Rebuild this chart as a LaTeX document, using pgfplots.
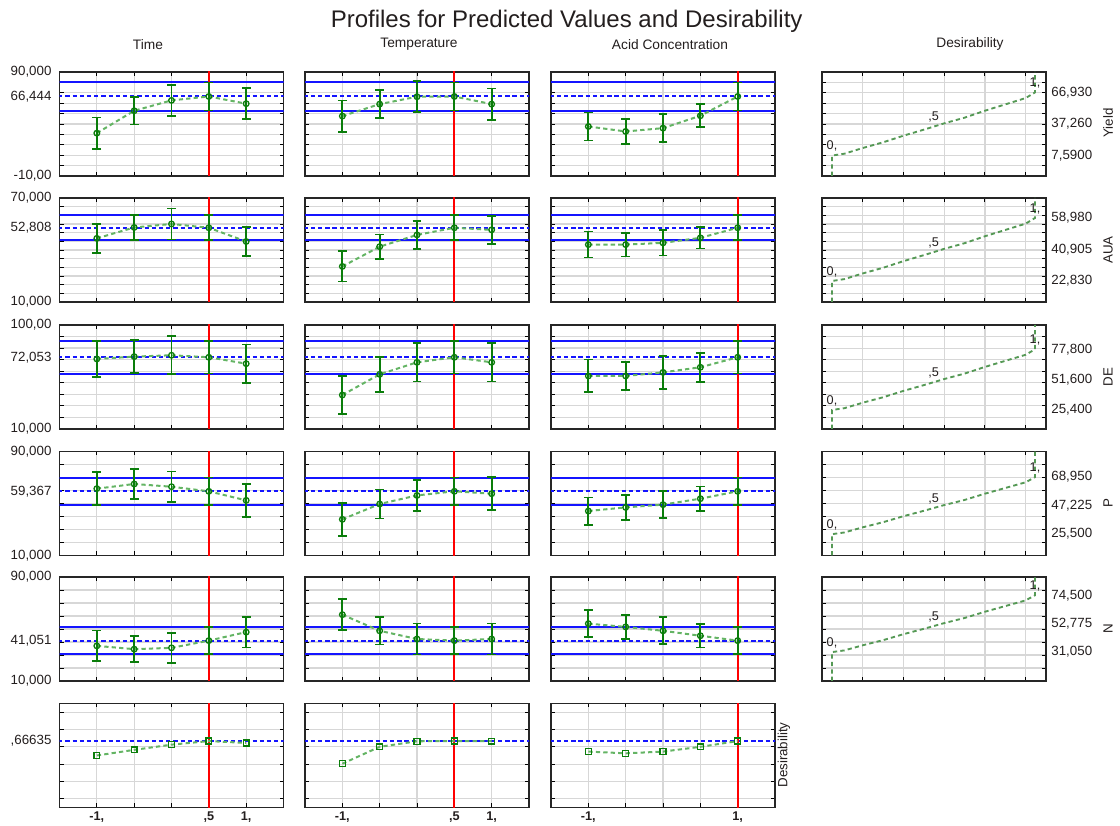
\documentclass[border=0pt]{standalone}
\usepackage{pgfplots}
\pgfplotsset{compat=1.18}
\usepackage{fontspec}
\setmainfont{Liberation Sans}

\definecolor{errgreen}{RGB}{10,125,10}
\definecolor{lngreen}{RGB}{100,180,100}
\definecolor{ciblue}{RGB}{20,20,255}
\definecolor{gridgray}{RGB}{215,215,215}
\definecolor{redl}{RGB}{255,0,0}
\definecolor{txt}{RGB}{35,30,30}

\tikzset{dlab/.style={font=\fontsize{9.5}{10}\selectfont, text=txt, inner sep=0pt, anchor=south}}

\pgfplotsset{
  panel/.style={scale only axis, width=168pt, height=78pt, anchor=north west,
    axis line style={line width=1.2pt, black!85},
    tick align=inside, xtick pos=both, ytick pos=both,
    major tick length=3pt, tick style={black, line width=0.7pt},
    grid=major, major grid style={gridgray, line width=0.9pt},
    xticklabels={}, yticklabels={},
    ticklabel style={font=\fontsize{10}{11}\selectfont, text=txt},
    extra x tick style={grid=none, major tick length=0pt,
      xticklabel style={font=\fontsize{9.5}{11}\selectfont\bfseries}},
  },
  prof/.style={panel, xmin=-1.5, xmax=1.5, xtick={-1,-0.5,0,0.5,1},
    extra y tick style={grid=none, major tick length=0pt, yticklabel style={xshift=-2.5pt}}},
  des/.style={panel, xmin=0, xmax=5.5, xtick={1,2,3,4,5}, yticklabel pos=right,
    extra y tick style={grid=none, major tick length=0pt, yticklabel style={xshift=0.5pt}}},
  rowA/.style={ymin=-10, ymax=90, ytick={-10,0,10,20,30,40,50,60,70,80,90}},
  rowB/.style={ymin=10, ymax=70, ytick={10,15,20,25,30,35,40,45,50,55,60,65,70}},
  rowC/.style={ymin=10, ymax=100, ytick={10,20,30,40,50,60,70,80,90,100}},
  rowD/.style={ymin=10, ymax=90, ytick={10,20,30,40,50,60,70,80,90}},
  rowF/.style={ymin=-0.1, ymax=1.1, ytick={0,0.2,0.4,0.6,0.8,1}},
  ciline/.style={draw=ciblue, line width=1.5pt, forget plot},
  curline/.style={draw=ciblue, line width=1.5pt, dash pattern=on 3.2pt off 2.2pt, forget plot},
  redline/.style={draw=redl, line width=1.5pt, forget plot},
  profline/.style={draw=lngreen, line width=1.5pt, dash pattern=on 3.2pt off 2.4pt,
    mark=o, mark size=2.1pt, mark options={solid, draw=errgreen, fill=white, line width=1pt},
    error bars/.cd, y dir=both, y explicit,
    error bar style={solid, draw=errgreen, line width=1.4pt},
    error mark options={rotate=90, mark size=3.3pt, line width=1.3pt, draw=errgreen}},
  desline/.style={draw=lngreen, line width=1.5pt, dash pattern=on 3.2pt off 2.4pt,
    mark=square, mark size=2.2pt, mark options={solid, draw=errgreen, fill=white, line width=1pt}},
  dcurve/.style={draw=lngreen!85!black, line width=1.4pt, dash pattern=on 3.2pt off 2.4pt},
}

\newcommand{\guides}[4]{%
  \addplot[ciline] coordinates {(-2,#3) (2,#3)};
  \addplot[ciline] coordinates {(-2,#4) (2,#4)};
  \addplot[curline] coordinates {(-2,#2) (2,#2)};
  \addplot[redline] coordinates {(#1,-1000) (#1,1000)};
}

\begin{document}
\begin{tikzpicture}
\path[use as bounding box] (0pt,0pt) rectangle (840pt,618.75pt);

% titles
\node[font=\fontsize{18}{21}\selectfont, text=txt] at (425pt,603pt) {Profiles for Predicted Values and Desirability};
\node[font=\fontsize{10.3}{12}\selectfont, text=txt] at (111pt,585.5pt) {Time};
\node[font=\fontsize{10.3}{12}\selectfont, text=txt] at (314.25pt,585.5pt) {Temperature};
\node[font=\fontsize{10.3}{12}\selectfont, text=txt] at (502.5pt,585.5pt) {Acid Concentration};
\node[font=\fontsize{10.3}{12}\selectfont, text=txt] at (727.5pt,585.5pt) {Desirability};

% ===================== Row 1: Yield =====================
\begin{axis}[prof, rowA, at={(44.625pt,564.75pt)},
  extra y ticks={-10,66.444,90}, extra y tick labels={{-10,00},{66,444},{90,000}}]
\guides{0.5}{66.444}{52.94}{79.94}
\addplot[profline] coordinates {(-1,31.2) +- (0,15.0) (-0.5,52.7) +- (0,13.3) (0,62.7) +- (0,15.0) (0.5,66.444) +- (0,13.5) (1,59.5) +- (0,15.0)};
\end{axis}
\begin{axis}[prof, rowA, at={(228.75pt,564.75pt)}]
\guides{0.5}{66.444}{52.94}{79.94}
\addplot[profline] coordinates {(-1,47.6) +- (0,15.0) (-0.5,59.1) +- (0,13.4) (0,66.2) +- (0,15.0) (0.5,66.444) +- (0,13.5) (1,59.1) +- (0,15.0)};
\end{axis}
\begin{axis}[prof, rowA, at={(413.25pt,564.75pt)}]
\guides{1}{66.444}{52.94}{79.94}
\addplot[profline] coordinates {(-1,37.6) +- (0,13.4) (-0.5,32.8) +- (0,11.8) (0,36.0) +- (0,13.4) (0.5,47.9) +- (0,11.0) (1,66.444) +- (0,13.5)};
\end{axis}
\begin{axis}[des, ymin=-11.56, ymax=86.08, ytick={-1.796,7.968,17.732,27.496,37.26,47.024,56.788,66.552,76.316},
  at={(616.5pt,564.75pt)},
  extra y ticks={7.59,37.26,66.93}, extra y tick labels={{7,5900},{37,260},{66,930}}]
\addplot[dcurve] coordinates {(0.245,-11.56) (0.245,7.59) (0.55,9.37) (1.0,14.71) (1.5,20.05) (2.0,26.28) (2.5,31.92) (3.0,37.85) (3.5,43.19) (4.0,49.72) (4.5,55.66) (5.0,61.59) (5.23,66.93) (5.23,86.08)};
\node[dlab, yshift=3pt] at (axis cs:0.245,7.59) {0,};
\node[dlab, yshift=1pt] at (axis cs:2.74,37.26) {,5};
\node[dlab, yshift=3pt] at (axis cs:5.23,66.93) {1,};
\end{axis}

% ===================== Row 2: AUA =====================
\begin{axis}[prof, rowB, at={(44.625pt,470.25pt)},
  extra y ticks={10,52.808,70}, extra y tick labels={{10,000},{52,808},{70,000}}]
\guides{0.5}{52.808}{45.6}{60.0}
\addplot[profline] coordinates {(-1,46.7) +- (0,8.4) (-0.5,53.0) +- (0,7.3) (0,55.0) +- (0,8.9) (0.5,52.808) +- (0,7.2) (1,44.9) +- (0,8.5)};
\end{axis}
\begin{axis}[prof, rowB, at={(228.75pt,470.25pt)}]
\guides{0.5}{52.808}{45.6}{60.0}
\addplot[profline] coordinates {(-1,30.5) +- (0,8.7) (-0.5,41.9) +- (0,7.1) (0,48.7) +- (0,8.1) (0.5,52.808) +- (0,7.2) (1,51.6) +- (0,8.1)};
\end{axis}
\begin{axis}[prof, rowB, at={(413.25pt,470.25pt)}]
\guides{1}{52.808}{45.6}{60.0}
\addplot[profline] coordinates {(-1,43.1) +- (0,7.5) (-0.5,43.1) +- (0,6.9) (0,44.1) +- (0,7.3) (0.5,47.0) +- (0,6.2) (1,52.808) +- (0,7.2)};
\end{axis}
\begin{axis}[des, ymin=10.78, ymax=70.45, ytick={15.7525,20.725,25.6975,30.67,35.6425,40.615,45.5875,50.56,55.5325,60.505,65.4775},
  at={(616.5pt,470.25pt)},
  extra y ticks={22.83,40.905,58.98}, extra y tick labels={{22,830},{40,905},{58,980}}]
\addplot[dcurve] coordinates {(0.245,10.78) (0.245,22.83) (0.55,23.91) (1.0,27.17) (1.5,30.42) (2.0,34.22) (2.5,37.65) (3.0,41.27) (3.5,44.52) (4.0,48.50) (4.5,52.11) (5.0,55.73) (5.23,58.98) (5.23,70.45)};
\node[dlab, yshift=3pt] at (axis cs:0.245,22.83) {0,};
\node[dlab, yshift=1pt] at (axis cs:2.74,40.905) {,5};
\node[dlab, yshift=3pt] at (axis cs:5.23,58.98) {1,};
\end{axis}

% ===================== Row 3: DE =====================
\begin{axis}[prof, rowC, at={(44.625pt,375pt)},
  extra y ticks={10,72.053,100}, extra y tick labels={{10,000},{72,053},{100,00}}]
\guides{0.5}{72.053}{57.95}{86.15}
\addplot[profline] coordinates {(-1,70.6) +- (0,15.6) (-0.5,72.6) +- (0,14.4) (0,73.8) +- (0,16.4) (0.5,72.053) +- (0,14.1) (1,66.5) +- (0,16.5)};
\end{axis}
\begin{axis}[prof, rowC, at={(228.75pt,375pt)}]
\guides{0.5}{72.053}{57.95}{86.15}
\addplot[profline] coordinates {(-1,39.4) +- (0,16.5) (-0.5,57.3) +- (0,15.0) (0,67.7) +- (0,16.6) (0.5,72.053) +- (0,14.1) (1,67.7) +- (0,16.5)};
\end{axis}
\begin{axis}[prof, rowC, at={(413.25pt,375pt)}]
\guides{1}{72.053}{57.95}{86.15}
\addplot[profline] coordinates {(-1,55.9) +- (0,14.2) (-0.5,55.9) +- (0,12.1) (0,59.0) +- (0,14.3) (0.5,63.4) +- (0,12.6) (1,72.053) +- (0,14.1)};
\end{axis}
\begin{axis}[des, ymin=9.0, ymax=98.8, ytick={18.978,28.956,38.933,48.911,58.889,68.867,78.844,88.822},
  at={(616.5pt,375pt)},
  extra y ticks={25.4,51.6,77.8}, extra y tick labels={{25,400},{51,600},{77,800}}]
\addplot[dcurve] coordinates {(0.245,9.0) (0.245,25.4) (0.55,26.97) (1.0,31.69) (1.5,36.40) (2.0,41.91) (2.5,46.88) (3.0,52.12) (3.5,56.84) (4.0,62.60) (4.5,67.84) (5.0,73.08) (5.23,77.8) (5.23,98.8)};
\node[dlab, yshift=3pt] at (axis cs:0.245,25.4) {0,};
\node[dlab, yshift=1pt] at (axis cs:2.74,51.6) {,5};
\node[dlab, yshift=3pt] at (axis cs:5.23,77.8) {1,};
\end{axis}

% ===================== Row 4: P =====================
\begin{axis}[prof, rowD, at={(44.625pt,280.125pt)},
  extra y ticks={10,59.367,90}, extra y tick labels={{10,000},{59,367},{90,000}}]
\guides{0.5}{59.367}{48.77}{69.97}
\addplot[profline] coordinates {(-1,61.4) +- (0,12.6) (-0.5,65.0) +- (0,11.3) (0,62.9) +- (0,11.8) (0.5,59.367) +- (0,10.6) (1,52.4) +- (0,12.7)};
\end{axis}
\begin{axis}[prof, rowD, at={(228.75pt,280.125pt)}]
\guides{0.5}{59.367}{48.77}{69.97}
\addplot[profline] coordinates {(-1,37.8) +- (0,12.7) (-0.5,49.6) +- (0,11.1) (0,56.2) +- (0,12.1) (0.5,59.367) +- (0,10.6) (1,57.5) +- (0,12.6)};
\end{axis}
\begin{axis}[prof, rowD, at={(413.25pt,280.125pt)}]
\guides{1}{59.367}{48.77}{69.97}
\addplot[profline] coordinates {(-1,44.2) +- (0,10.5) (-0.5,47.0) +- (0,9.5) (0,49.1) +- (0,10.5) (0.5,53.7) +- (0,9.4) (1,59.367) +- (0,10.6)};
\end{axis}
\begin{axis}[des, ymin=9.24, ymax=88.5, ytick={19.1475,29.055,38.9625,48.87,58.7775,68.685,78.5925},
  at={(616.5pt,280.125pt)},
  extra y ticks={25.5,47.225,68.95}, extra y tick labels={{25,500},{47,225},{68,950}}]
\addplot[dcurve] coordinates {(0.245,9.24) (0.245,25.5) (0.55,26.80) (1.0,30.71) (1.5,34.62) (2.0,39.19) (2.5,43.31) (3.0,47.66) (3.5,51.57) (4.0,56.35) (4.5,60.69) (5.0,65.04) (5.23,68.95) (5.23,88.5)};
\node[dlab, yshift=3pt] at (axis cs:0.245,25.5) {0,};
\node[dlab, yshift=1pt] at (axis cs:2.74,47.225) {,5};
\node[dlab, yshift=3pt] at (axis cs:5.23,68.95) {1,};
\end{axis}

% ===================== Row 5: N =====================
\begin{axis}[prof, rowD, at={(44.625pt,186pt)},
  extra y ticks={10,41.051,90}, extra y tick labels={{10,000},{41,051},{90,000}}]
\guides{0.5}{41.051}{30.65}{51.45}
\addplot[profline] coordinates {(-1,37.0) +- (0,11.9) (-0.5,34.5) +- (0,10.1) (0,35.5) +- (0,11.6) (0.5,41.051) +- (0,10.4) (1,47.6) +- (0,11.9)};
\end{axis}
\begin{axis}[prof, rowD, at={(228.75pt,186pt)}]
\guides{0.5}{41.051}{30.65}{51.45}
\addplot[profline] coordinates {(-1,61.0) +- (0,11.8) (-0.5,48.6) +- (0,10.5) (0,42.3) +- (0,12.0) (0.5,41.051) +- (0,10.4) (1,42.3) +- (0,12.0)};
\end{axis}
\begin{axis}[prof, rowD, at={(413.25pt,186pt)}]
\guides{1}{41.051}{30.65}{51.45}
\addplot[profline] coordinates {(-1,54.1) +- (0,10.5) (-0.5,51.6) +- (0,9.1) (0,48.6) +- (0,10.4) (0.5,44.8) +- (0,9.1) (1,41.051) +- (0,10.4)};
\end{axis}
\begin{axis}[des, ymin=8.95, ymax=88.47, ytick={18.89,28.83,38.77,48.71,58.65,68.59,78.53},
  at={(616.5pt,186pt)},
  extra y ticks={31.05,52.775,74.5}, extra y tick labels={{31,050},{52,775},{74,500}}]
\addplot[dcurve] coordinates {(0.245,8.95) (0.245,31.05) (0.55,32.35) (1.0,36.26) (1.5,40.17) (2.0,44.74) (2.5,48.86) (3.0,53.21) (3.5,57.12) (4.0,61.90) (4.5,66.24) (5.0,70.59) (5.23,74.5) (5.23,88.47)};
\node[dlab, yshift=3pt] at (axis cs:0.245,31.05) {0,};
\node[dlab, yshift=1pt] at (axis cs:2.74,52.775) {,5};
\node[dlab, yshift=3pt] at (axis cs:5.23,74.5) {1,};
\end{axis}

% ===================== Row 6: Desirability =====================
\begin{axis}[prof, rowF, at={(44.625pt,91.125pt)},
  extra y ticks={0.66635}, extra y tick labels={{,66635},{}},
  extra x ticks={-1,0.5,1}, extra x tick labels={{-1,},{,5},{1,}}]
\addplot[curline] coordinates {(-2,0.66635) (2,0.66635)};
\addplot[redline] coordinates {(0.5,-10) (0.5,10)};
\addplot[desline] coordinates {(-1,0.50) (-0.5,0.565) (0,0.625) (0.5,0.66635) (1,0.645)};
\end{axis}
\begin{axis}[prof, rowF, at={(228.75pt,91.125pt)},
  extra x ticks={-1,0.5,1}, extra x tick labels={{-1,},{,5},{1,}}]
\addplot[curline] coordinates {(-2,0.66635) (2,0.66635)};
\addplot[redline] coordinates {(0.5,-10) (0.5,10)};
\addplot[desline] coordinates {(-1,0.405) (-0.5,0.60) (0,0.664) (0.5,0.66635) (1,0.665)};
\end{axis}
\begin{axis}[prof, rowF, at={(413.25pt,91.125pt)},
  extra x ticks={-1,1}, extra x tick labels={{-1,},{1,}}]
\addplot[curline] coordinates {(-2,0.66635) (2,0.66635)};
\addplot[redline] coordinates {(1,-10) (1,10)};
\addplot[desline] coordinates {(-1,0.545) (-0.5,0.525) (0,0.545) (0.5,0.60) (1,0.66635)};
\end{axis}

% right-side row labels
\node[rotate=90, font=\fontsize{10}{11}\selectfont, text=txt] at (831pt,526.5pt) {Yield};
\node[rotate=90, font=\fontsize{10}{11}\selectfont, text=txt] at (831pt,431.25pt) {AUA};
\node[rotate=90, font=\fontsize{10}{11}\selectfont, text=txt] at (831pt,336pt) {DE};
\node[rotate=90, font=\fontsize{10}{11}\selectfont, text=txt] at (831pt,241.5pt) {P};
\node[rotate=90, font=\fontsize{10}{11}\selectfont, text=txt] at (831pt,147pt) {N};
\node[rotate=90, font=\fontsize{10}{11}\selectfont, text=txt] at (588pt,52.5pt) {Desirability};
\end{tikzpicture}
\end{document}
